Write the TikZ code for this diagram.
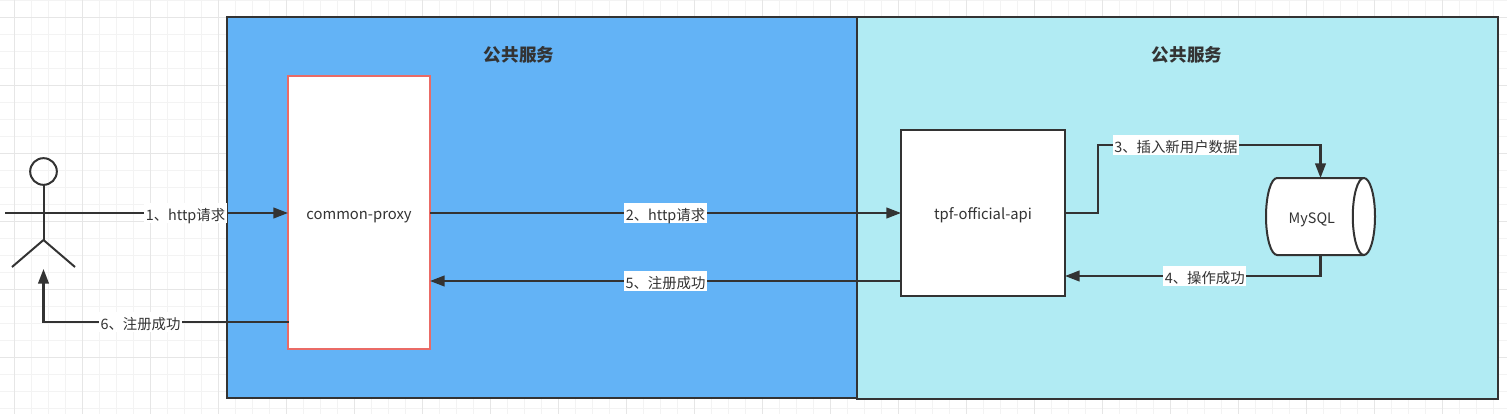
\documentclass[tikz,border=0pt]{standalone}
\usepackage{fontspec}
\setmainfont{Noto Sans CJK SC}
\usepackage{tikz}
\usetikzlibrary{arrows.meta, shapes.geometric, positioning}
\definecolor{ink}{HTML}{333333}
\definecolor{gridminor}{HTML}{F3F3F3}
\definecolor{gridmajor}{HTML}{E6E6E6}
\definecolor{leftfill}{HTML}{63B3F6}
\definecolor{rightfill}{HTML}{B1EBF3}
\definecolor{proxyred}{HTML}{EA6B66}

\begin{document}
\begin{tikzpicture}[
    x=0.75pt, y=-0.75pt,
    region/.style={rectangle, draw=ink, line width=1.5pt, outer sep=0pt, inner sep=0pt},
    service/.style={rectangle, draw=ink, fill=white, line width=1.5pt, outer sep=0pt, text=ink, text height=10pt, text depth=0pt, font=\fontsize{11.1}{13}\selectfont},
    title/.style={text=ink, font=\fontsize{13.2}{15}\selectfont\bfseries},
    steplabel/.style={fill=white, text=ink, inner sep=1pt, text height=11.5pt, text depth=1pt, font=\fontsize{10.8}{12}\selectfont},
    arrow/.style={draw=ink, line width=1.6pt, -{Triangle[length=11pt,width=8pt]}},
    figure/.style={draw=ink, line width=1.5pt}
]
\useasboundingbox (0,0) rectangle (1507,414);
\fill[white] (0,0) rectangle (1507,414);

% grid
\foreach \gx in {14.5,31.5,...,1507} {\draw[gridminor, line width=0.75pt] (\gx,0) -- (\gx,414);}
\foreach \gy in {0,17,...,414} {\draw[gridminor, line width=0.75pt] (0,\gy) -- (1507,\gy);}
\foreach \gx in {14.5,82.5,...,1507} {\draw[gridmajor, line width=0.75pt] (\gx,0) -- (\gx,414);}
\foreach \gy in {17,85,...,414} {\draw[gridmajor, line width=0.75pt] (0,\gy) -- (1507,\gy);}

% regions
\node (leftbox) [region, fill=leftfill, minimum width=472.5pt, minimum height=285.75pt] at (542,207.5) {};
\node (rightbox) [region, fill=rightfill, minimum width=480.75pt, minimum height=286.5pt] at (1177.5,208) {};
\node (lefttitle) [title] at (519,55) {公共服务};
\node (righttitle) [title] at (1187,55) {公共服务};

% services
\node (proxy) [service, draw=proxyred, minimum width=106.5pt, minimum height=204.75pt] at (359,212.5) {common-proxy};
\node (api) [service, minimum width=123pt, minimum height=124.5pt] at (983,213) {tpf-official-api};
\node (mysql) [cylinder, draw=ink, fill=white, line width=1.5pt, outer sep=0pt, text=ink, shape aspect=1, anchor=shape center,
    text height=10pt, text depth=0pt, minimum width=57.75pt, minimum height=81.75pt, font=\fontsize{10.8}{12}\selectfont] at (1320.5,216.5) {MySQL};
\coordinate (mysqltop) at (mysql.shape center |- mysql.north);
\coordinate (mysqlbottom) at (mysql.shape center |- mysql.south);

% actor
\node (head) [circle, figure, minimum size=20pt, inner sep=0pt, outer sep=0pt] at (43.5,171.5) {};
\coordinate (hip) at (43.5,240);
\coordinate (armleft) at (5,213);
\coordinate (armright) at (83,213);
\coordinate (footleft) at (12,267);
\coordinate (footright) at (75,267);
\draw[figure] (head.south) -- (hip);
\draw[figure] (armleft) -- (armright);
\draw[figure] (footleft) -- (hip) -- (footright);

% connector ends
\coordinate (sixstart) at (288.5,322);
\coordinate (sixend) at (43.5,269);
\coordinate (threebend) at (1098,145);
\coordinate (fourend) at (1065,276);
\coordinate (fivestart) at (901,281);
\coordinate (fiveend) at (430,281);

% arrows
\draw [arrow] (armright) -- node[steplabel, pos=0.5] {1、http请求} (proxy.west |- armright);
\draw [arrow] (proxy.east |- api.west) -- node[steplabel] {2、http请求} (api.west);
\draw [arrow] (api.east) -| (threebend) -- node[steplabel, pos=0.35] {3、插入新用户数据} (threebend -| mysqltop) -- (mysqltop);
\draw [arrow] (mysqlbottom) -- (mysqlbottom |- fourend) -- node[steplabel, pos=0.453] {4、操作成功} (fourend);
\draw [arrow] (fivestart) -- node[steplabel] {5、注册成功} (fiveend);
\draw [arrow] (sixstart) -- node[steplabel, pos=0.604] {6、注册成功} (sixend |- sixstart) -- (sixend);

\end{tikzpicture}
\end{document}
